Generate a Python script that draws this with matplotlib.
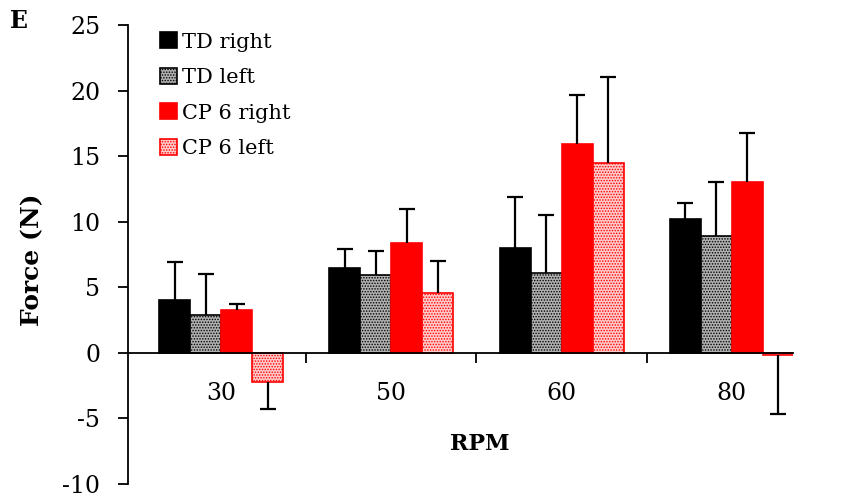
import numpy as np
import matplotlib
matplotlib.use("Agg")
import matplotlib.pyplot as plt

plt.rcParams['font.family'] = ['DejaVu Serif']
plt.rcParams['axes.unicode_minus'] = False
plt.rcParams['hatch.linewidth'] = 0.7

rpm = ['30', '50', '60', '80']
series = ['TD right', 'TD left', 'CP 6 right', 'CP 6 left']

td_right = [4.0, 6.5, 8.0, 10.2]
td_right_err = [2.9, 1.4, 3.9, 1.2]
td_left = [2.9, 5.9, 6.1, 8.9]
td_left_err = [3.1, 1.9, 4.4, 4.1]
cp6_right = [3.3, 8.4, 15.9, 13.0]
cp6_right_err = [0.4, 2.6, 3.8, 3.8]
cp6_left = [-2.2, 4.6, 14.5, -0.15]
cp6_left_err = [2.1, 2.4, 6.5, 4.5]

values = [td_right, td_left, cp6_right, cp6_left]
errors = [td_right_err, td_left_err, cp6_right_err, cp6_left_err]
styles = [
    dict(color='black', edgecolor='black', hatch=None),
    dict(color='#b0b0b0', edgecolor='black', hatch='......'),
    dict(color='#ff0000', edgecolor='#ff0000', hatch=None),
    dict(color='#ffcaca', edgecolor='#ff0000', hatch='......'),
]

fig = plt.figure(figsize=(8.47, 5.0), dpi=100)
ax = fig.add_axes([0.1511, 0.032, 0.785, 0.918])

x = np.arange(len(rpm))
w = 0.182
for i, (vals, errs, st) in enumerate(zip(values, errors, styles)):
    vals = np.array(vals)
    errs = np.array(errs)
    xpos = x + (i - 1.5) * w
    ax.bar(xpos, vals, w, color=st['color'], edgecolor=st['edgecolor'],
           hatch=st['hatch'], linewidth=1.2, label=series[i], zorder=2)
    # one-sided error bar pointing away from zero, cap only at the far end
    ends = np.where(vals < 0, vals - errs, vals + errs)
    ax.vlines(xpos, vals, ends, color='black', linewidth=1.6, zorder=3)
    ax.plot(xpos, ends, linestyle='none', marker='_', markersize=12,
            markeredgewidth=1.6, color='black', zorder=3)

ax.set_xlim(-0.547, 3.359)
ax.set_ylim(-10, 25)
ax.set_yticks(np.arange(-10, 26, 5))

for s in ['top', 'right']:
    ax.spines[s].set_visible(False)
ax.spines['bottom'].set_position(('data', 0))
ax.spines['bottom'].set_zorder(4)
ax.spines['left'].set_linewidth(1.3)
ax.spines['bottom'].set_linewidth(1.3)

ax.set_xticks(x)
ax.set_xticklabels(rpm)
ax.set_xticks([0.5, 1.5, 2.5], minor=True)
ax.tick_params(axis='x', which='major', length=0, pad=21, labelsize=17)
ax.tick_params(axis='x', which='minor', length=7, width=1.3, direction='out')
ax.tick_params(axis='y', length=7, width=1.3, pad=13, labelsize=17)

fig.text(32 / 847, 1 - 260 / 500, 'Force (N)', rotation=90, fontsize=18,
         fontweight='bold', ha='center', va='center')
fig.text(480 / 847, 1 - 444 / 500, 'RPM', fontsize=16, fontweight='bold',
         ha='center', va='center')
fig.text(19 / 847, 1 - 21 / 500, 'E', fontsize=17, fontweight='bold',
         ha='center', va='center')

ax.legend(loc='upper left', bbox_to_anchor=(150 / 847, 1 - 22 / 500),
          bbox_transform=fig.transFigure, frameon=False, fontsize=15,
          handlelength=0.8, handleheight=0.8, handletextpad=0.25,
          labelspacing=0.78, borderpad=0)

fig.savefig('out.png', dpi=100)
